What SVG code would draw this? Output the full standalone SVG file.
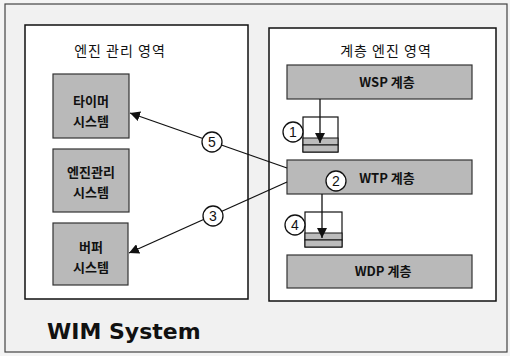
<svg xmlns="http://www.w3.org/2000/svg" width="510" height="356" viewBox="0 0 510 356">
<defs>
<style>
.frame{fill:#ffffff;stroke:#111;stroke-width:1.5}
.gbox{fill:#b9b9b9;stroke:#333;stroke-width:1.2}
.q{fill:#fff;stroke:#111;stroke-width:1.2}
.qb{fill:#bcbcbc;stroke:#111;stroke-width:1}
.ln{stroke:#111;stroke-width:1.3;fill:none}
.cir{fill:#fff;stroke:#111;stroke-width:1.3}
.hd{font-family:"Noto Sans CJK KR","Noto Sans",sans-serif;font-size:14px;letter-spacing:1px;fill:#111;text-anchor:middle}
.bt{font-family:"Noto Sans CJK KR","DejaVu Sans",sans-serif;font-size:13px;font-weight:bold;fill:#111;text-anchor:middle}
.num{font-family:"Liberation Sans",Arial,sans-serif;font-size:14px;fill:#111;text-anchor:middle}
.ttl{font-family:"DejaVu Sans",Verdana,sans-serif;font-size:22px;font-weight:bold;fill:#111}
</style>
<marker id="ah" viewBox="0 0 10 10" refX="10" refY="5" markerWidth="10" markerHeight="10" markerUnits="userSpaceOnUse" orient="auto">
<path d="M0,0 L10,5 L0,10 z" fill="#111"/>
</marker>
</defs>
<rect x="0" y="0" width="510" height="356" fill="#f4f4f4"/>
<rect x="5" y="4" width="502" height="348" fill="#f1f1f1" stroke="#444" stroke-width="1.2"/>

<g id="engine-mgmt-area">
<rect class="frame" x="25" y="25" width="223" height="274"/>
<text class="hd" x="120" y="56">엔진 관리 영역</text>
</g>
<g id="layer-engine-area">
<rect class="frame" x="269" y="28" width="227" height="273"/>
<text class="hd" x="386" y="56">계층 엔진 영역</text>
</g>

<g id="timer">
<rect class="gbox" x="53" y="74" width="76" height="64"/>
<text class="bt" x="91" y="106">타이머</text>
<text class="bt" x="91" y="126">시스템</text>
</g>
<g id="engine-mgmt">
<rect class="gbox" x="53" y="149" width="76" height="63"/>
<text class="bt" x="91" y="177">엔진관리</text>
<text class="bt" x="91" y="197">시스템</text>
</g>
<g id="buffer">
<rect class="gbox" x="53" y="223" width="75" height="62"/>
<text class="bt" x="91" y="252">버퍼</text>
<text class="bt" x="91" y="272">시스템</text>
</g>

<g id="wsp">
<rect class="gbox" x="287" y="65" width="185" height="34"/>
<text class="bt" x="387" y="87">WSP 계층</text>
</g>
<g id="queue1">
<rect class="q" x="303" y="117" width="35" height="35"/>
<rect class="qb" x="303" y="138" width="35" height="7"/>
<rect class="qb" x="303" y="145" width="35" height="7"/>
</g>
<g id="wtp">
<rect class="gbox" x="287" y="160" width="185" height="34"/>
<text class="bt" x="387" y="183">WTP 계층</text>
</g>
<g id="queue4">
<rect class="q" x="305" y="212" width="37" height="35"/>
<rect class="qb" x="305" y="233" width="37" height="7"/>
<rect class="qb" x="305" y="240" width="37" height="7"/>
</g>
<g id="wdp">
<rect class="gbox" x="287" y="255" width="185" height="33"/>
<text class="bt" x="383" y="276">WDP 계층</text>
</g>

<g id="connectors">
<line class="ln" x1="320" y1="99" x2="320" y2="143" marker-end="url(#ah)"/>
<line class="ln" x1="322" y1="194" x2="322" y2="238" marker-end="url(#ah)"/>
<line class="ln" x1="287" y1="168" x2="130" y2="113" marker-end="url(#ah)"/>
<line class="ln" x1="287" y1="182" x2="129" y2="253" marker-end="url(#ah)"/>
</g>

<g id="labels">
<circle class="cir" cx="293" cy="132" r="10"/>
<text class="num" x="293" y="137">1</text>
<circle class="cir" cx="336" cy="181" r="10"/>
<text class="num" x="336" y="186">2</text>
<circle class="cir" cx="213" cy="216" r="10"/>
<text class="num" x="213" y="221">3</text>
<circle class="cir" cx="295" cy="225" r="10"/>
<text class="num" x="295" y="230">4</text>
<circle class="cir" cx="212" cy="142" r="10"/>
<text class="num" x="212" y="147">5</text>
</g>

<text class="ttl" x="47" y="339">WIM System</text>
</svg>
